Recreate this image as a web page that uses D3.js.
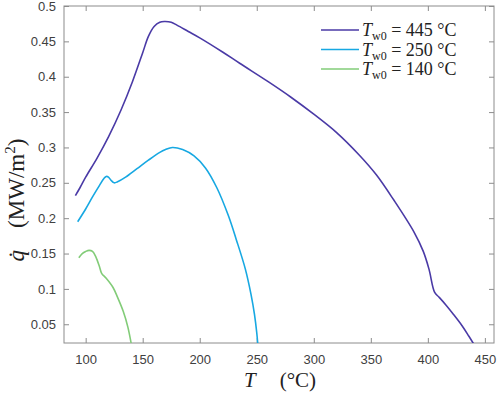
<!DOCTYPE html>
<html>
<head>
<meta charset="utf-8">
<script src="https://cdn.jsdelivr.net/npm/d3@7"></script>
<style>
  body { margin: 0; background: #fff; }
  .tick text { font-family: "Liberation Sans", Arial, sans-serif; font-size: 13px; fill: #404040; }
</style>
</head>
<body>
<div class="chart"></div>
<script>
// q-dot (MW/m2) against T (degC) for three initial wall temperatures
var T445 = [91, 95, 100, 110, 120, 131, 141, 150, 155, 160, 165, 169, 175, 180, 190, 200, 220, 235, 260, 280, 300, 320, 340, 355, 370, 388, 396, 401, 406, 410, 416, 422, 430, 436, 441];
var q445 = [0.232, 0.243, 0.258, 0.285, 0.315, 0.353, 0.393, 0.434, 0.457, 0.471, 0.477, 0.478, 0.477, 0.473, 0.464, 0.455, 0.435, 0.419, 0.393, 0.371, 0.347, 0.321, 0.289, 0.261, 0.226, 0.180, 0.153, 0.128, 0.095, 0.088, 0.077, 0.065, 0.048, 0.033, 0.020];

var T250 = [93, 100, 106, 112, 116, 118, 120, 122, 125, 128, 135, 145, 155, 165, 170, 176, 185, 195, 205, 215, 225, 232, 240, 245, 248, 250, 251];
var q250 = [0.195, 0.213, 0.230, 0.246, 0.256, 0.259, 0.258, 0.254, 0.250, 0.2515, 0.258, 0.270, 0.282, 0.293, 0.297, 0.300, 0.297, 0.288, 0.271, 0.243, 0.204, 0.170, 0.128, 0.092, 0.064, 0.038, 0.020];

var T140 = [94, 97, 100, 103, 106, 109, 112, 114, 118, 124, 128, 133, 137, 140];
var q140 = [0.144, 0.150, 0.153, 0.1545, 0.153, 0.145, 0.132, 0.122, 0.115, 0.102, 0.088, 0.068, 0.046, 0.022];

var seriesNames = ['445', '250', '140'];
var xTicks = [100, 150, 200, 250, 300, 350, 400, 450];
var yTicks = [0.05, 0.1, 0.15, 0.2, 0.25, 0.3, 0.35, 0.4, 0.45, 0.5];

var colors = ['#4a3aa6', '#17a8e2', '#82cc78'];

var margin = { top: 6, right: 4, bottom: 52, left: 64 };
var width = 498 - margin.left - margin.right;
var height = 395 - margin.top - margin.bottom;

var root = d3.select('.chart').append('svg')
    .attr('width', 498)
    .attr('height', 395);

var svg = root.append('g')
    .attr('transform', `translate(${margin.left},${margin.top})`);

var xScale = d3.scaleLinear().domain([81, 458]).range([0, width]);
var yScale = d3.scaleLinear().domain([0.0235, 0.5]).range([height, 0]);

svg.append('clipPath').attr('id', 'clip')
    .append('rect').attr('width', width).attr('height', height);

var axisColor = '#8c8c8c';

function styleAxis(g) {
    g.select('.domain').remove();
    g.selectAll('.tick line').attr('stroke', axisColor);
}

svg.append('g')
    .attr('transform', `translate(0,${height})`)
    .call(d3.axisBottom(xScale).tickValues(xTicks).tickSize(-5).tickPadding(12))
    .call(styleAxis);
svg.append('g')
    .call(d3.axisTop(xScale).tickValues(xTicks).tickSize(-5).tickFormat(''))
    .call(styleAxis);
svg.append('g')
    .call(d3.axisLeft(yScale).tickValues(yTicks).tickSize(-5).tickPadding(8).tickFormat(d3.format('~g')))
    .call(styleAxis);
svg.append('g')
    .attr('transform', `translate(${width},0)`)
    .call(d3.axisRight(yScale).tickValues(yTicks).tickSize(-5).tickFormat(''))
    .call(styleAxis);

svg.append('rect')
    .attr('width', width).attr('height', height)
    .attr('fill', 'none').attr('stroke', axisColor).attr('stroke-width', 1);

var line = d3.line()
    .x(d => xScale(d[0]))
    .y(d => yScale(d[1]))
    .curve(d3.curveCatmullRom.alpha(0.5));

var series = [
    d3.zip(T445, q445),
    d3.zip(T250, q250),
    d3.zip(T140, q140)
];

svg.append('g').attr('clip-path', 'url(#clip)')
    .selectAll('path')
    .data(series)
    .enter()
    .append('path')
    .attr('d', line)
    .attr('fill', 'none')
    .attr('stroke', (d, i) => colors[i])
    .attr('stroke-width', 1.6);

// legend
var serif = '"Liberation Serif", "Times New Roman", serif';
var legend = svg.append('g').attr('transform', 'translate(257,24)');
seriesNames.forEach(function (name, i) {
    var row = legend.append('g').attr('transform', `translate(0,${i * 19.5})`);
    row.append('line')
        .attr('x1', 0).attr('x2', 38)
        .attr('stroke', colors[i]).attr('stroke-width', 1.6);
    var t = row.append('text')
        .attr('x', 41).attr('y', 6)
        .style('font-family', serif).style('font-size', '18px').attr('fill', '#222');
    t.append('tspan').style('font-style', 'italic').text('T');
    t.append('tspan').attr('dy', 4).style('font-size', '12px').text('w0');
    t.append('tspan').attr('dy', -4).text(' = ' + name + ' °C');
});

// axis titles
var xt = root.append('text')
    .attr('x', 280).attr('y', 387)
    .attr('text-anchor', 'middle')
    .style('font-family', serif).style('font-size', '21px').attr('fill', '#222');
xt.append('tspan').style('font-style', 'italic').text('T');
xt.append('tspan').attr('dx', 24).text('(°C)');

var yt = root.append('text')
    .attr('transform', 'translate(24,200) rotate(-90)')
    .attr('text-anchor', 'middle')
    .style('font-family', serif).style('font-size', '23px').attr('fill', '#222');
yt.append('tspan').style('font-style', 'italic').text('q\u0307');
yt.append('tspan').attr('dx', 22).text('(MW/m');
yt.append('tspan').attr('dy', -9).style('font-size', '15px').text('2');
yt.append('tspan').attr('dy', 9).text(')');
</script>
</body>
</html>
